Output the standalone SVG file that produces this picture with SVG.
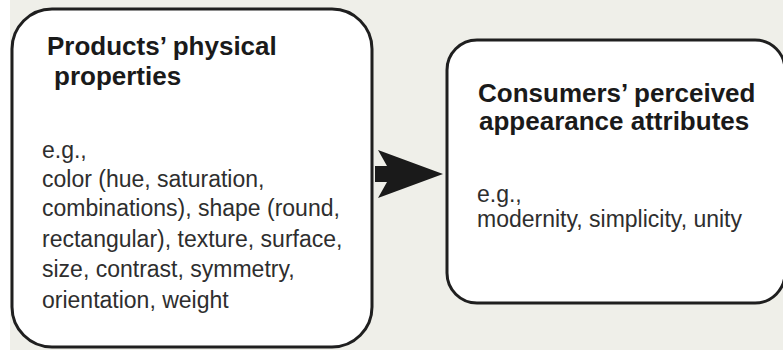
<svg xmlns="http://www.w3.org/2000/svg" width="783" height="350" viewBox="0 0 783 350">
<style>
.box{fill:#ffffff;stroke:#1f1f1f;stroke-width:3}
.title{font-family:"Liberation Sans",Arial,sans-serif;font-weight:bold;font-size:26px;fill:#1a1a1a}
.body{font-family:"Liberation Sans",Arial,sans-serif;font-size:23px;fill:#2e2e2e}
.arrow{fill:#1a1a1a}
</style>
<rect x="0" y="0" width="783" height="350" fill="#efefe9"/>
<rect x="0" y="0" width="10" height="350" fill="#ffffff"/>
<g id="physical">
<rect class="box" x="12" y="9" width="360" height="338" rx="40" ry="40"/>
<text class="title" x="47" y="55">Products’ physical</text>
<text class="title" x="54" y="85">properties</text>
<text class="body" x="42" y="158">e.g.,</text>
<text class="body" x="42" y="187">color (hue, saturation,</text>
<text class="body" x="42" y="216">combinations), shape (round,</text>
<text class="body" x="42" y="247">rectangular), texture, surface,</text>
<text class="body" x="42" y="277">size, contrast, symmetry,</text>
<text class="body" x="42" y="308">orientation, weight</text>
</g>
<g id="perceived">
<rect class="box" x="447" y="40" width="338" height="263" rx="30" ry="30"/>
<text class="title" x="478" y="102">Consumers’ perceived</text>
<text class="title" x="479" y="130">appearance attributes</text>
<text class="body" x="477" y="202">e.g.,</text>
<text class="body" x="477" y="227">modernity, simplicity, unity</text>
</g>
<g id="connectors">
<path class="arrow" d="M375,166 L387,166 L378,150 L443,174 L378,198 L387,182 L375,182 Z"/>
</g>
</svg>
